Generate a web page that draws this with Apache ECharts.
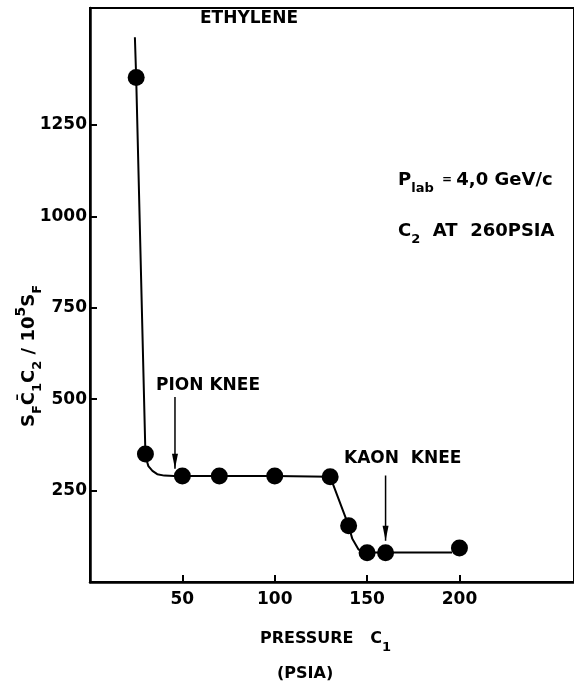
<!DOCTYPE html>
<html>
<head>
<meta charset="utf-8">
<script src="https://cdn.jsdelivr.net/npm/echarts@6/dist/echarts.min.js"></script>
<style>
  html, body { margin: 0; padding: 0; background: #fff; }
  #chart { width: 574px; height: 685px; }
</style>
</head>
<body>
<div id="chart"></div>
<script>
// Measurements: C1 pressure (PSIA) against S_F C1bar C2 / 10^5 S_F
const pressure = [25, 30, 50, 70, 100, 130, 140, 150, 160, 200];
const coincidences = [1380, 350, 290, 290, 290, 288, 154, 80, 80, 93];

// Hand-drawn guide curve through the measurements
const curvePressure = [24.3, 25, 30, 30.5, 31.6, 33.8, 36.4, 40.2, 45.6, 50, 70, 100, 130, 140, 142, 145.2, 147.9, 150, 160, 196];
const curveValue = [1490, 1380, 350, 336, 317, 304, 295, 291, 290, 290, 290, 290, 288, 154, 118, 90, 80, 81, 81, 81];

// Knee arrows: pressure, shaft start and arrow tip
const kneePressure = [46, 160];
const arrowStart = [506, 291];
const arrowTip = [310, 113];

// Axis ticks
const xTicks = [50, 100, 150, 200];
const yTicks = [250, 500, 750, 1000, 1250];

const FONT = '"DejaVu Sans", sans-serif';
const INK = '#000';

const pairs = (xs, ys) => xs.map((x, i) => [x, ys[i]]);

const chart = echarts.init(document.getElementById('chart'), null, { renderer: 'canvas' });

const main = { fontFamily: FONT, fontWeight: 'bold', fontSize: 17, color: INK, lineHeight: 30, verticalAlign: 'middle' };
const big = { fontFamily: FONT, fontWeight: 'bold', fontSize: 18, color: INK, lineHeight: 30, verticalAlign: 'middle' };
const axisName = { fontFamily: FONT, fontWeight: 'bold', fontSize: 16, color: INK, lineHeight: 30, verticalAlign: 'middle' };
const sub = { fontFamily: FONT, fontWeight: 'bold', fontSize: 13, color: INK, lineHeight: 14, verticalAlign: 'bottom' };
const sup = { fontFamily: FONT, fontWeight: 'bold', fontSize: 14, color: INK, lineHeight: 15, verticalAlign: 'top' };
const small = { fontFamily: FONT, fontWeight: 'bold', fontSize: 12, color: INK, lineHeight: 30, verticalAlign: 'middle' };

function label(text, x, y, extra) {
  return Object.assign({
    type: 'text', x: x, y: y, z: 10,
    style: {
      text: text,
      fontFamily: FONT, fontWeight: 'bold', fontSize: 17, fill: INK,
      align: 'left', verticalAlign: 'middle',
      rich: { m: main, b: big, n: axisName, s: sub, p: sup, e: small }
    }
  }, extra || {});
}

const tickText = { color: INK, fontFamily: FONT, fontWeight: 'bold', fontSize: 17, formatter: v => String(v) };

const option = {
  animation: false,
  backgroundColor: '#fff',
  grid: {
    left: 90, top: 8, width: 489, height: 574,
    show: true, borderColor: INK, borderWidth: 2, backgroundColor: 'transparent'
  },
  xAxis: {
    type: 'value', min: 0, max: 262, interval: 50,
    axisLine: { show: true, onZero: false, lineStyle: { color: INK, width: 2.5 } },
    axisTick: { show: true, inside: true, length: 7, customValues: xTicks, lineStyle: { color: INK, width: 2 } },
    axisLabel: Object.assign({ customValues: xTicks, margin: 9 }, tickText),
    splitLine: { show: false }
  },
  yAxis: {
    type: 'value', min: 0, max: 1570, interval: 250,
    axisLine: { show: true, onZero: false, lineStyle: { color: INK, width: 2.5 } },
    axisTick: { show: true, inside: true, length: 7, customValues: yTicks, lineStyle: { color: INK, width: 2 } },
    axisLabel: Object.assign({ customValues: yTicks, margin: 3 }, tickText),
    splitLine: { show: false }
  },
  series: [
    {
      type: 'line', data: pairs(curvePressure, curveValue),
      symbol: 'none', lineStyle: { color: INK, width: 2 }, z: 2, silent: true
    },
    {
      type: 'scatter', data: pairs(pressure, coincidences),
      symbol: 'circle', symbolSize: 17, itemStyle: { color: INK, opacity: 1 }, z: 3
    },
    ...kneePressure.map((p, i) => ({
      type: 'line', data: [[p, arrowStart[i]], [p, arrowTip[i]]],
      symbol: 'none', lineStyle: { color: INK, width: 1.5 }, z: 4, silent: true
    })),
    {
      type: 'scatter', data: pairs(kneePressure, arrowTip),
      symbol: 'path://M0,0L10,0L5,24Z', symbolKeepAspect: false,
      symbolSize: [6, 15], symbolOffset: [0, -7.5],
      itemStyle: { color: INK, opacity: 1 }, z: 4, silent: true
    }
  ],
  graphic: [
    label('ETHYLENE', 200, 19),
    label('PION KNEE', 156, 386),
    label('KAON  KNEE', 344, 459),
    label('{b|P}{s|lab}{e|  = }{b|4,0 GeV/c}', 398, 180),
    label('{b|C}{s|2}{b|  AT  260PSIA}', 398, 231),
    label('{n|PRESSURE}{n|   C}{s|1}', 260, 639),
    label('{n|(PSIA)}', 277, 674),
    label('{b|S}{s|F}{b|C\u0304}{s|1}{b|C}{s|2}{b| / 10}{p|5}{b|S}{s|F}', 29, 356,
      { rotation: Math.PI / 2 })
  ]
};
// Center the rotated y-axis title on its anchor
option.graphic[7].style.align = 'center';

chart.setOption(option);
</script>
</body>
</html>
